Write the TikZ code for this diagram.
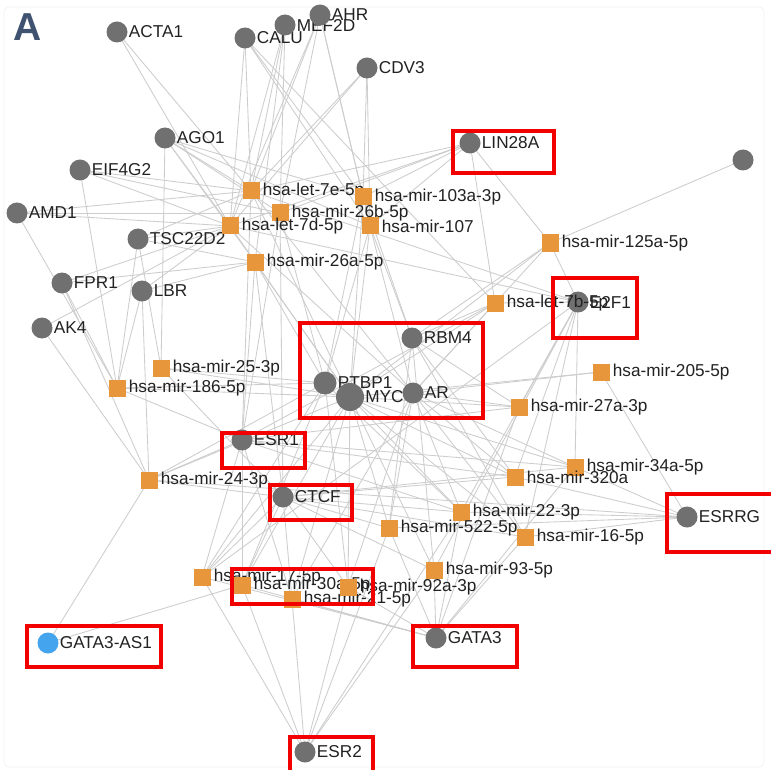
\documentclass[tikz,border=0pt]{standalone}
\usepackage{fontspec}
\setmainfont{Liberation Sans}
\definecolor{genegray}{HTML}{707070}
\definecolor{mirorange}{HTML}{E8963C}
\definecolor{lncblue}{HTML}{45A4EE}
\definecolor{edgegray}{HTML}{CDCDCD}
\definecolor{labeltext}{HTML}{222222}
\definecolor{hlred}{HTML}{F20000}
\definecolor{titleblue}{HTML}{3F5270}
\pgfdeclarelayer{edges}
\pgfsetlayers{edges,main}
\tikzset{
  lbl/.style={font=\fontsize{17.2}{17.2}\selectfont, text=labeltext, inner sep=1pt},
  gene/.style={circle, fill=genegray, minimum size=21pt, inner sep=0pt, label={[lbl]right:#1}},
  lnc/.style={gene=#1, fill=lncblue},
  mirna/.style={rectangle, fill=mirorange, minimum size=17pt, inner sep=0pt, label={[lbl, xshift=2pt]right:#1}},
  link/.style={draw=edgegray, line width=0.85pt},
  hl/.style={draw=hlred, line width=3.5pt},
}
\begin{document}
\begin{tikzpicture}[x=1pt, y=-1pt]
\useasboundingbox (0,0) rectangle (771,770);

% panel letter
\node[font=\fontsize{39}{39}\selectfont\bfseries, text=titleblue, inner sep=0pt] (panel) at (28,27) {A};

% genes
\node[gene=ACTA1]   (acta1)  at (117,32)  {};
\node[gene=CALU]    (calu)   at (245,38)  {};
\node[gene=MEF2D]   (mef2d)  at (285,25)  {};
\node[gene=AHR]     (ahr)    at (320,15)  {};
\node[gene=CDV3]    (cdv3)   at (367,68)  {};
\node[gene=AGO1]    (ago1)   at (165,138) {};
\node[gene=EIF4G2]  (eif4g2) at (80,170)  {};
\node[gene=AMD1]    (amd1)   at (17,213)  {};
\node[gene=TSC22D2] (tsc)    at (138,239) {};
\node[gene=FPR1]    (fpr1)   at (62,283)  {};
\node[gene=LBR]     (lbr)    at (142,291) {};
\node[gene=AK4]     (ak4)    at (42,328)  {};
\node[gene=LIN28A]  (lin28a) at (470,143) {};
\node[circle, fill=genegray, minimum size=21pt, inner sep=0pt] (unk) at (743,160) {};
\node[gene=RBM4]    (rbm4)   at (412,338) {};
\node[gene=PTBP1, minimum size=23pt] (ptbp1) at (325,383) {};
\node[gene=MYC, minimum size=28pt]   (myc)   at (350,397) {};
\node[gene=AR]      (ar)     at (413,393) {};
\node[gene=E2F1]    (e2f1)   at (578,302) {};
\node[gene=ESR1]    (esr1)   at (242,440) {};
\node[gene=CTCF]    (ctcf)   at (283,497) {};
\node[gene=ESRRG]   (esrrg)  at (687,517) {};
\node[gene=GATA3]   (gata3)  at (436,638) {};
\node[lnc=GATA3-AS1] (gas1)  at (48,643)  {};
\node[gene=ESR2]    (esr2)   at (305,752) {};

% miRNAs
\node[mirna=hsa-let-7e-5p]   (let7e) at (251,191) {};
\node[mirna=hsa-mir-103a-3p] (m103a) at (363,197) {};
\node[mirna=hsa-mir-26b-5p]  (m26b)  at (280,213) {};
\node[mirna=hsa-let-7d-5p]   (let7d) at (230,226) {};
\node[mirna=hsa-mir-107]     (m107)  at (370,226) {};
\node[mirna=hsa-mir-125a-5p] (m125a) at (550,243) {};
\node[mirna=hsa-mir-26a-5p]  (m26a)  at (255,262) {};
\node[mirna=hsa-let-7b-5p]   (let7b) at (495,303) {};
\node[mirna=hsa-mir-25-3p]   (m25)   at (161,368) {};
\node[mirna=hsa-mir-186-5p]  (m186)  at (117,388) {};
\node[mirna=hsa-mir-205-5p]  (m205)  at (601,372) {};
\node[mirna=hsa-mir-27a-3p]  (m27a)  at (519,407) {};
\node[mirna=hsa-mir-24-3p]   (m24)   at (149,480) {};
\node[mirna=hsa-mir-34a-5p]  (m34a)  at (575,467) {};
\node[mirna=hsa-mir-320a]    (m320a) at (515,477) {};
\node[mirna=hsa-mir-22-3p]   (m22)   at (461,512) {};
\node[mirna=hsa-mir-522-5p]  (m522)  at (389,528) {};
\node[mirna=hsa-mir-16-5p]   (m16)   at (525,537) {};
\node[mirna=hsa-mir-93-5p]   (m93)   at (434,570) {};
\node[mirna=hsa-mir-17-5p]   (m17)   at (202,577) {};
\node[mirna=hsa-mir-30a-5p]  (m30a)  at (242,585) {};
\node[mirna=hsa-mir-21-5p]   (m21)   at (292,599) {};
\node[mirna=hsa-mir-92a-3p]  (m92a)  at (348,587) {};

% white sheet, faint frame and miRNA -- target interactions, all behind the nodes
\begin{pgfonlayer}{edges}
\fill[white] (0,0) rectangle (771,770);
\draw[gray!10, line width=0.6pt, rounded corners=5pt] (4,7) rectangle (764,767);
\foreach \m/\ts in {
  let7e/{acta1,calu,mef2d,ahr,cdv3,ago1,eif4g2,amd1,tsc,lin28a,myc,ar,e2f1,esr1},
  m103a/{calu,ahr,cdv3,ago1,lin28a,myc,ptbp1,rbm4},
  m26b/{mef2d,ahr,ago1,eif4g2,amd1,lin28a,ptbp1,esr1,ctcf},
  let7d/{acta1,calu,mef2d,ahr,cdv3,ago1,eif4g2,amd1,tsc,fpr1,lbr,ak4,lin28a,myc,e2f1,ar},
  m107/{calu,ahr,cdv3,ago1,lin28a,myc,ptbp1,rbm4,ar},
  m125a/{lin28a,unk,myc,e2f1,ar,rbm4},
  m26a/{mef2d,ago1,tsc,fpr1,lbr,ptbp1,myc,esr1,ctcf},
  let7b/{lin28a,calu,myc,ar,e2f1,rbm4,esr1},
  m25/{ago1,tsc,ptbp1,myc,ctcf},
  m186/{eif4g2,amd1,tsc,fpr1,lbr,ptbp1,myc,esr1},
  m205/{ar,myc,esrrg},
  m27a/{e2f1,rbm4,myc,ar,gata3,esr1},
  m24/{lbr,fpr1,ak4,gas1,esr1,myc,ptbp1,ctcf,esrrg},
  m34a/{e2f1,myc,ar,esrrg,gata3,ctcf,esr1},
  m320a/{e2f1,myc,ar,esrrg,ctcf,rbm4,esr1},
  m22/{esrrg,e2f1,myc,ar,ptbp1,ctcf,gata3,esr1,esr2},
  m522/{myc,ar,rbm4,ctcf,gata3,esr2,esrrg},
  m16/{e2f1,myc,ar,rbm4,gata3,esrrg,ctcf},
  m93/{myc,e2f1,rbm4,gata3,esr2,ctcf},
  m17/{esr1,ctcf,myc,ptbp1,esr2,gata3,e2f1},
  m30a/{gas1,ctcf,myc,esr1,esr2,gata3,ptbp1},
  m21/{ctcf,myc,esr2,gata3,esr1,ar},
  m92a/{myc,ptbp1,ctcf,esr2,gata3,ar}%
} {
  \foreach \t in \ts {
    \draw[link] (\m.center) -- (\t.center);
  }
}
\end{pgfonlayer}

% highlight frames
\draw[hl] (453,131) rectangle (554,173);
\draw[hl] (553,278) rectangle (637,338);
\draw[hl] (300,323) rectangle (483,418);
\draw[hl] (222,433) rectangle (305,468);
\draw[hl] (270,485) rectangle (352,520);
\draw[hl] (667,494) rectangle (773,552);
\draw[hl] (232,569) rectangle (373,604);
\draw[hl] (27,626)  rectangle (161,667);
\draw[hl] (413,626) rectangle (517,667);
\draw[hl] (290,737) rectangle (373,772);
\end{tikzpicture}
\end{document}
